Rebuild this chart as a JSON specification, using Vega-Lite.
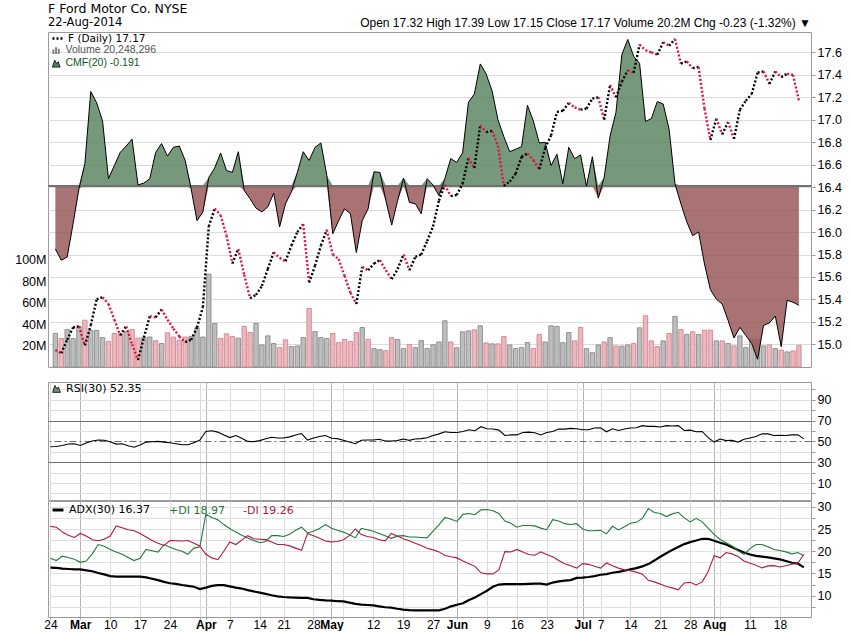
{
"$schema": "https://vega.github.io/schema/vega-lite/v6.json",
"padding": {"left": 14, "top": 2, "right": 0, "bottom": 0},
"background": "white",
"title": {"text": "F Ford Motor Co. NYSE", "subtitle": "22-Aug-2014", "anchor": "start", "frame": "group", "font": "DejaVu Sans", "fontSize": 12.5, "fontWeight": "normal", "color": "#000", "subtitleFont": "DejaVu Sans", "subtitleFontSize": 11.5, "subtitleColor": "#000", "subtitlePadding": 2, "offset": -12},
"datasets": {"s": [
{"i":0,"c":14.95,"v":31.3,"d":0,"m":-0.101,"r":44.8,"a":16.3,"p":18.4,"n":25.6},
{"i":1,"c":14.92,"v":26.6,"d":1,"m":-0.119,"r":45.1,"a":16.25,"p":17.9,"n":25.4},
{"i":2,"c":15.04,"v":35.0,"d":0,"m":-0.114,"r":46.1,"a":16.1,"p":18.9,"n":24.3},
{"i":3,"c":15.15,"v":26.6,"d":0,"m":-0.061,"r":47.4,"a":16.0,"p":18.6,"n":23.6},
{"i":4,"c":15.16,"v":37.9,"d":0,"m":-0.005,"r":47.7,"a":15.9,"p":18.2,"n":23.1},
{"i":5,"c":14.99,"v":43.7,"d":1,"m":0.035,"r":46.1,"a":15.9,"p":17.5,"n":24.0},
{"i":6,"c":15.17,"v":34.2,"d":0,"m":0.150,"r":48.4,"a":15.7,"p":17.8,"n":23.4},
{"i":7,"c":15.40,"v":34.2,"d":0,"m":0.132,"r":50.3,"a":15.5,"p":19.4,"n":22.6},
{"i":8,"c":15.42,"v":27.5,"d":0,"m":0.103,"r":51.3,"a":15.1,"p":21.5,"n":22.35},
{"i":9,"c":15.36,"v":24.0,"d":1,"m":0.011,"r":51.0,"a":14.8,"p":21.1,"n":22.7},
{"i":10,"c":15.22,"v":31.3,"d":1,"m":0.032,"r":49.7,"a":14.4,"p":20.4,"n":23.4},
{"i":11,"c":15.08,"v":31.0,"d":1,"m":0.053,"r":47.4,"a":14.3,"p":19.8,"n":25.7},
{"i":12,"c":15.16,"v":33.0,"d":0,"m":0.063,"r":47.7,"a":14.3,"p":19.3,"n":25.3},
{"i":13,"c":15.00,"v":35.0,"d":1,"m":0.074,"r":45.7,"a":14.3,"p":18.6,"n":24.85},
{"i":14,"c":14.86,"v":27.0,"d":1,"m":0.001,"r":44.4,"a":14.3,"p":17.9,"n":24.6},
{"i":15,"c":15.06,"v":27.5,"d":0,"m":0.004,"r":46.4,"a":14.3,"p":18.4,"n":24.0},
{"i":16,"c":15.25,"v":28.0,"d":0,"m":0.011,"r":49.3,"a":14.1,"p":20.4,"n":23.2},
{"i":17,"c":15.24,"v":24.5,"d":1,"m":0.053,"r":49.7,"a":13.8,"p":20.1,"n":22.4},
{"i":18,"c":15.31,"v":22.0,"d":0,"m":0.067,"r":50.0,"a":13.5,"p":19.8,"n":21.8},
{"i":19,"c":15.22,"v":32.0,"d":1,"m":0.047,"r":49.3,"a":13.1,"p":21.5,"n":21.3},
{"i":20,"c":15.14,"v":28.0,"d":1,"m":0.061,"r":48.7,"a":12.8,"p":20.9,"n":22.4},
{"i":21,"c":15.07,"v":25.0,"d":1,"m":0.063,"r":47.7,"a":12.65,"p":20.4,"n":22.35},
{"i":22,"c":15.02,"v":28.0,"d":1,"m":0.040,"r":46.7,"a":12.4,"p":20.0,"n":22.3},
{"i":23,"c":15.04,"v":28.6,"d":0,"m":-0.005,"r":46.7,"a":12.2,"p":19.3,"n":22.4},
{"i":24,"c":15.15,"v":36.6,"d":0,"m":-0.056,"r":48.7,"a":12.0,"p":20.7,"n":21.8},
{"i":25,"c":15.33,"v":28.0,"d":0,"m":-0.042,"r":51.3,"a":11.5,"p":21.0,"n":21.2},
{"i":26,"c":16.05,"v":86.8,"d":0,"m":0.013,"r":59.5,"a":11.8,"p":28.3,"n":19.3},
{"i":27,"c":16.21,"v":40.6,"d":0,"m":0.028,"r":60.2,"a":12.2,"p":27.6,"n":18.5},
{"i":28,"c":16.15,"v":26.8,"d":1,"m":0.052,"r":58.9,"a":12.35,"p":27.1,"n":18.1},
{"i":29,"c":15.97,"v":31.0,"d":1,"m":0.024,"r":56.2,"a":12.35,"p":26.0,"n":20.0},
{"i":30,"c":15.72,"v":28.6,"d":1,"m":0.021,"r":53.6,"a":12.1,"p":25.1,"n":22.1},
{"i":31,"c":15.85,"v":27.0,"d":0,"m":0.054,"r":55.6,"a":11.8,"p":24.3,"n":21.5},
{"i":32,"c":15.62,"v":37.9,"d":1,"m":-0.008,"r":53.0,"a":11.6,"p":23.6,"n":22.5},
{"i":33,"c":15.41,"v":32.2,"d":1,"m":-0.021,"r":50.0,"a":11.25,"p":23.0,"n":23.5},
{"i":34,"c":15.44,"v":40.7,"d":0,"m":-0.036,"r":49.7,"a":10.95,"p":22.4,"n":22.8},
{"i":35,"c":15.52,"v":20.6,"d":0,"m":-0.042,"r":50.7,"a":10.7,"p":21.9,"n":22.7},
{"i":36,"c":15.67,"v":29.1,"d":0,"m":-0.034,"r":52.6,"a":10.4,"p":22.2,"n":22.6},
{"i":37,"c":15.82,"v":21.9,"d":0,"m":-0.012,"r":53.9,"a":10.1,"p":23.5,"n":22.1},
{"i":38,"c":15.77,"v":18.1,"d":1,"m":-0.066,"r":53.3,"a":9.85,"p":23.5,"n":21.5},
{"i":39,"c":15.74,"v":25.4,"d":1,"m":-0.029,"r":53.3,"a":9.7,"p":23.3,"n":21.5},
{"i":40,"c":15.88,"v":19.1,"d":0,"m":-0.010,"r":54.3,"a":9.6,"p":23.8,"n":21.2},
{"i":41,"c":16.00,"v":19.7,"d":0,"m":0.021,"r":56.2,"a":9.55,"p":24.7,"n":20.7},
{"i":42,"c":16.07,"v":27.5,"d":0,"m":0.054,"r":57.5,"a":9.5,"p":25.4,"n":20.2},
{"i":43,"c":15.55,"v":54.8,"d":1,"m":0.040,"r":51.3,"a":9.5,"p":24.1,"n":24.0},
{"i":44,"c":15.70,"v":33.1,"d":0,"m":0.061,"r":53.3,"a":9.2,"p":24.5,"n":23.5},
{"i":45,"c":15.88,"v":27.5,"d":0,"m":0.068,"r":54.6,"a":9.05,"p":25.1,"n":22.9},
{"i":46,"c":16.02,"v":26.6,"d":0,"m":0.016,"r":55.6,"a":8.95,"p":26.0,"n":22.3},
{"i":47,"c":15.80,"v":31.3,"d":1,"m":-0.077,"r":53.0,"a":8.9,"p":25.15,"n":22.1},
{"i":48,"c":15.76,"v":22.8,"d":1,"m":-0.056,"r":52.6,"a":8.75,"p":24.7,"n":22.2},
{"i":49,"c":15.61,"v":25.7,"d":1,"m":-0.037,"r":51.0,"a":8.7,"p":24.3,"n":22.6},
{"i":50,"c":15.46,"v":23.8,"d":1,"m":-0.045,"r":49.3,"a":8.45,"p":23.7,"n":23.5},
{"i":51,"c":15.36,"v":32.2,"d":1,"m":-0.107,"r":47.7,"a":8.15,"p":23.0,"n":25.0},
{"i":52,"c":15.69,"v":36.9,"d":0,"m":-0.056,"r":51.0,"a":8.0,"p":25.15,"n":23.75},
{"i":53,"c":15.66,"v":25.7,"d":1,"m":-0.037,"r":51.3,"a":7.9,"p":24.85,"n":23.3},
{"i":54,"c":15.72,"v":17.2,"d":0,"m":0.022,"r":51.3,"a":7.8,"p":24.5,"n":23.1},
{"i":55,"c":15.75,"v":16.2,"d":0,"m":0.021,"r":52.0,"a":7.6,"p":24.0,"n":22.6},
{"i":56,"c":15.66,"v":15.3,"d":1,"m":-0.024,"r":50.3,"a":7.4,"p":23.5,"n":22.35},
{"i":57,"c":15.58,"v":27.5,"d":1,"m":-0.063,"r":50.3,"a":7.3,"p":22.9,"n":24.0},
{"i":58,"c":15.67,"v":25.7,"d":0,"m":-0.024,"r":50.7,"a":7.05,"p":23.4,"n":23.4},
{"i":59,"c":15.80,"v":17.2,"d":0,"m":0.012,"r":52.3,"a":6.85,"p":23.5,"n":22.8},
{"i":60,"c":15.66,"v":21.0,"d":1,"m":-0.027,"r":51.0,"a":6.75,"p":23.2,"n":22.35},
{"i":61,"c":15.78,"v":18.1,"d":0,"m":-0.029,"r":52.3,"a":6.7,"p":23.2,"n":21.8},
{"i":62,"c":15.80,"v":24.7,"d":0,"m":-0.045,"r":52.6,"a":6.7,"p":23.1,"n":21.3},
{"i":63,"c":15.92,"v":17.2,"d":0,"m":0.011,"r":53.5,"a":6.7,"p":23.0,"n":20.65},
{"i":64,"c":16.05,"v":20.8,"d":0,"m":0.001,"r":55.6,"a":6.7,"p":24.5,"n":20.3},
{"i":65,"c":16.28,"v":23.4,"d":0,"m":-0.016,"r":57.2,"a":6.7,"p":26.0,"n":19.85},
{"i":66,"c":16.42,"v":43.2,"d":0,"m":0.011,"r":59.2,"a":7.05,"p":27.6,"n":19.05},
{"i":67,"c":16.32,"v":23.4,"d":1,"m":0.043,"r":58.5,"a":7.6,"p":27.2,"n":18.75},
{"i":68,"c":16.33,"v":18.1,"d":0,"m":0.037,"r":58.5,"a":7.95,"p":26.7,"n":18.5},
{"i":69,"c":16.43,"v":32.9,"d":0,"m":0.052,"r":59.5,"a":8.3,"p":28.3,"n":17.8},
{"i":70,"c":16.66,"v":33.8,"d":0,"m":0.133,"r":61.1,"a":9.0,"p":28.5,"n":17.2},
{"i":71,"c":16.57,"v":34.7,"d":1,"m":0.146,"r":60.2,"a":9.6,"p":28.2,"n":16.6},
{"i":72,"c":16.95,"v":38.5,"d":0,"m":0.194,"r":64.1,"a":10.35,"p":29.3,"n":15.15},
{"i":73,"c":16.89,"v":22.5,"d":1,"m":0.178,"r":62.1,"a":11.1,"p":29.4,"n":14.9},
{"i":74,"c":16.90,"v":21.6,"d":0,"m":0.151,"r":61.8,"a":12.0,"p":29.1,"n":14.9},
{"i":75,"c":16.77,"v":21.6,"d":1,"m":0.105,"r":60.8,"a":12.5,"p":28.5,"n":15.8},
{"i":76,"c":16.41,"v":28.5,"d":1,"m":0.078,"r":55.6,"a":12.6,"p":26.8,"n":19.9},
{"i":77,"c":16.45,"v":20.6,"d":0,"m":0.054,"r":56.2,"a":12.6,"p":26.3,"n":19.85},
{"i":78,"c":16.52,"v":17.2,"d":0,"m":0.058,"r":56.2,"a":12.6,"p":25.4,"n":20.4},
{"i":79,"c":16.67,"v":18.1,"d":0,"m":0.062,"r":58.5,"a":12.6,"p":25.8,"n":19.8},
{"i":80,"c":16.70,"v":22.8,"d":0,"m":0.128,"r":58.9,"a":12.65,"p":25.8,"n":19.25},
{"i":81,"c":16.64,"v":17.2,"d":1,"m":0.103,"r":58.2,"a":12.7,"p":25.7,"n":19.1},
{"i":82,"c":16.56,"v":30.4,"d":1,"m":0.068,"r":56.2,"a":12.7,"p":25.2,"n":19.85},
{"i":83,"c":16.75,"v":23.4,"d":0,"m":0.069,"r":58.5,"a":12.5,"p":24.85,"n":19.25},
{"i":84,"c":16.86,"v":38.5,"d":0,"m":0.032,"r":59.5,"a":12.95,"p":27.1,"n":18.75},
{"i":85,"c":17.07,"v":37.9,"d":0,"m":0.050,"r":61.8,"a":13.2,"p":26.8,"n":17.9},
{"i":86,"c":17.08,"v":22.8,"d":0,"m":0.003,"r":61.8,"a":13.4,"p":26.2,"n":17.2},
{"i":87,"c":17.15,"v":32.2,"d":0,"m":0.061,"r":62.5,"a":13.5,"p":26.0,"n":16.75},
{"i":88,"c":17.11,"v":24.4,"d":1,"m":0.043,"r":62.1,"a":14.0,"p":26.2,"n":16.2},
{"i":89,"c":17.09,"v":36.9,"d":1,"m":0.049,"r":61.1,"a":14.05,"p":25.0,"n":17.2},
{"i":90,"c":17.10,"v":17.2,"d":0,"m":-0.001,"r":61.1,"a":14.2,"p":24.6,"n":17.05},
{"i":91,"c":17.19,"v":13.4,"d":0,"m":0.046,"r":62.8,"a":14.4,"p":24.6,"n":16.6},
{"i":92,"c":17.20,"v":20.6,"d":0,"m":-0.020,"r":63.1,"a":14.7,"p":24.7,"n":16.2},
{"i":93,"c":17.00,"v":23.4,"d":1,"m":0.013,"r":59.2,"a":14.85,"p":23.9,"n":17.35},
{"i":94,"c":17.31,"v":27.5,"d":0,"m":0.079,"r":62.1,"a":15.15,"p":25.6,"n":16.75},
{"i":95,"c":17.20,"v":19.7,"d":1,"m":0.117,"r":60.5,"a":15.35,"p":24.8,"n":16.2},
{"i":96,"c":17.34,"v":19.5,"d":0,"m":0.209,"r":61.8,"a":15.6,"p":25.5,"n":15.8},
{"i":97,"c":17.44,"v":20.6,"d":0,"m":0.233,"r":62.8,"a":15.9,"p":26.3,"n":15.6},
{"i":98,"c":17.42,"v":22.0,"d":1,"m":0.206,"r":63.1,"a":16.2,"p":26.5,"n":15.3},
{"i":99,"c":17.67,"v":36.6,"d":0,"m":0.195,"r":65.1,"a":16.6,"p":27.4,"n":14.85},
{"i":100,"c":17.62,"v":47.9,"d":1,"m":0.102,"r":64.4,"a":17.1,"p":29.6,"n":13.45},
{"i":101,"c":17.60,"v":24.4,"d":1,"m":0.107,"r":64.4,"a":17.9,"p":28.7,"n":13.1},
{"i":102,"c":17.58,"v":19.1,"d":1,"m":0.134,"r":63.8,"a":18.75,"p":28.5,"n":12.6},
{"i":103,"c":17.69,"v":24.4,"d":0,"m":0.130,"r":65.1,"a":19.55,"p":27.8,"n":12.05},
{"i":104,"c":17.66,"v":31.3,"d":1,"m":0.090,"r":64.8,"a":20.3,"p":28.4,"n":11.75},
{"i":105,"c":17.72,"v":47.3,"d":0,"m":0.003,"r":65.1,"a":20.95,"p":28.75,"n":11.3},
{"i":106,"c":17.50,"v":35.0,"d":1,"m":-0.029,"r":60.5,"a":21.6,"p":27.5,"n":12.85},
{"i":107,"c":17.52,"v":30.4,"d":0,"m":-0.058,"r":60.8,"a":22.05,"p":26.6,"n":13.0},
{"i":108,"c":17.46,"v":32.9,"d":1,"m":-0.080,"r":59.2,"a":22.4,"p":27.4,"n":12.4},
{"i":109,"c":17.47,"v":30.4,"d":0,"m":-0.074,"r":59.5,"a":22.8,"p":26.6,"n":13.1},
{"i":110,"c":17.10,"v":34.4,"d":1,"m":-0.125,"r":53.6,"a":22.8,"p":25.2,"n":15.45},
{"i":111,"c":16.82,"v":34.4,"d":1,"m":-0.166,"r":49.3,"a":22.35,"p":23.8,"n":19.0},
{"i":112,"c":17.01,"v":24.4,"d":0,"m":-0.181,"r":52.3,"a":21.9,"p":22.65,"n":18.5},
{"i":113,"c":16.87,"v":24.4,"d":1,"m":-0.189,"r":50.7,"a":21.5,"p":21.9,"n":19.7},
{"i":114,"c":16.98,"v":22.0,"d":0,"m":-0.215,"r":51.0,"a":20.9,"p":21.2,"n":19.4},
{"i":115,"c":16.83,"v":19.7,"d":1,"m":-0.243,"r":49.3,"a":20.3,"p":20.1,"n":18.8},
{"i":116,"c":17.09,"v":29.1,"d":0,"m":-0.226,"r":52.0,"a":19.7,"p":19.3,"n":17.8},
{"i":117,"c":17.17,"v":18.1,"d":0,"m":-0.239,"r":53.3,"a":19.25,"p":20.6,"n":17.3},
{"i":118,"c":17.23,"v":25.4,"d":0,"m":-0.252,"r":54.6,"a":18.95,"p":21.5,"n":16.85},
{"i":119,"c":17.42,"v":26.0,"d":0,"m":-0.277,"r":57.2,"a":18.8,"p":21.5,"n":16.25},
{"i":120,"c":17.43,"v":19.7,"d":0,"m":-0.223,"r":57.2,"a":18.6,"p":21.0,"n":16.7},
{"i":121,"c":17.32,"v":20.6,"d":1,"m":-0.219,"r":55.6,"a":18.4,"p":20.4,"n":16.75},
{"i":122,"c":17.43,"v":17.2,"d":0,"m":-0.208,"r":55.9,"a":18.15,"p":20.15,"n":16.45},
{"i":123,"c":17.38,"v":15.9,"d":1,"m":-0.257,"r":55.6,"a":17.8,"p":19.85,"n":16.75},
{"i":124,"c":17.41,"v":14.1,"d":0,"m":-0.183,"r":56.2,"a":17.4,"p":19.4,"n":17.05},
{"i":125,"c":17.40,"v":15.0,"d":1,"m":-0.186,"r":56.2,"a":17.2,"p":19.7,"n":17.35},
{"i":126,"c":17.17,"v":20.2,"d":1,"m":-0.191,"r":52.35,"a":16.37,"p":18.97,"n":19.26}
]},
"data": {"name": "s"},
"spacing": 15,
"bounds": "flush",
"resolve": {"scale": {"color": "independent", "fill": "independent", "strokeDash": "independent"}},
"vconcat": [
{
"width": 763, "height": 335,
"title": {"text": "Open 17.32  High 17.39  Low 17.15  Close 17.17  Volume 20.2M  Chg -0.23 (-1.32%) ▼", "anchor": "end", "frame": "group", "font": "Liberation Sans", "fontSize": 12, "fontWeight": "normal", "color": "#000", "offset": 2},
"resolve": {"scale": {"y": "independent"}, "axis": {"y": "independent"}},
"layer": [
{
"mark": {"type": "rule", "opacity": 0},
"encoding": {
"y": {"datum": 0, "type": "quantitative", "scale": {"domain": [-1, 1]}, "axis": null},
"strokeDash": {"datum": "F (Daily) 17.17", "type": "nominal", "scale": {"range": [[2, 2]]},
"legend": {"orient": "none", "legendX": 3, "legendY": 0, "labelColor": "#000", "labelFont": "DejaVu Sans", "labelFontSize": 10.5, "symbolType": "stroke", "symbolStrokeColor": "#000", "symbolStrokeWidth": 2.5, "symbolSize": 100,
"encoding": {"symbols": {"opacity": {"value": 1}, "strokeOpacity": {"value": 1}, "stroke": {"value": "#000"}}}}}
}
},
{
"mark": {"type": "rule", "opacity": 0},
"encoding": {
"y": {"datum": 0, "type": "quantitative", "scale": {"domain": [-1, 1]}, "axis": null},
"color": {"datum": "Volume 20,248,296", "type": "nominal", "scale": {"range": ["#808080"]},
"legend": {"orient": "none", "legendX": 3, "legendY": 13, "labelColor": "#555", "labelFont": "Liberation Sans", "labelFontSize": 10.5, "symbolType": "M-1,1V-0.2H-0.5V1ZM-0.3,1V-0.8H0.2V1ZM0.4,1V-0.4H0.9V1Z", "symbolSize": 60,
"encoding": {"symbols": {"opacity": {"value": 1}, "fill": {"value": "#808080"}, "fillOpacity": {"value": 1}, "stroke": {"value": "#808080"}, "strokeWidth": {"value": 0}}}}}
}
},
{
"mark": {"type": "bar", "width": 4.4, "strokeWidth": 0.9},
"encoding": {
"x": {"field": "i", "type": "quantitative", "scale": {"domain": [-0.4, 127.2], "nice": false, "zero": false},
"axis": {"values": [0,5,10,15,20,25,26,30,35,39,44,47,49,54,59,64,68,73,78,83,88,89,92,97,102,107,111,112,117,122],
"labelExpr": "['24','Mar','10','17','24','','Apr','7','14','21','28','May','','12','19','27','Jun','9','16','23','','Jul','7','14','21','28','Aug','','11','18'][indexof([0,5,10,15,20,25,26,30,35,39,44,47,49,54,59,64,68,73,78,83,88,89,92,97,102,107,111,112,117,122], datum.value)]",
"labelFontWeight": {"condition": {"test": "indexof([5,26,47,68,89,111], datum.value) >= 0", "value": "bold"}, "value": "normal"},
"gridColor": {"condition": {"test": "indexof([5,26,47,68,89,111], datum.value) >= 0", "value": "#b4b4b4"}, "value": "#dcdcdc"},
"grid": true, "domain": false, "tickSize": 3, "tickColor": "#999", "labelPadding": 1, "labelOverlap": false, "labelFlush": false, "labelBound": false}},
"y": {"field": "v", "type": "quantitative", "scale": {"domain": [0, 313], "nice": false},
"axis": {"orient": "left", "values": [20,40,60,80,100], "labelExpr": "datum.value + 'M'", "grid": false, "ticks": false, "domain": false, "labelPadding": 2}},
"fill": {"condition": {"test": "datum.d == 1", "value": "#e8bac0"}, "value": "#bebebe"},
"stroke": {"condition": {"test": "datum.d == 1", "value": "#d9808c"}, "value": "#8a8a8a"}
}
},
{
"mark": {"type": "area", "fillOpacity": 0.8},
"encoding": {
"x": {"field": "i", "type": "quantitative", "scale": {"domain": [-0.4, 127.2], "nice": false, "zero": false}, "axis": null},
"y": {"field": "m", "type": "quantitative", "scale": {"domain": [0, 0.2449], "range": [153.6, 0], "clamp": true, "nice": false, "zero": false}, "axis": null},
"y2": {"datum": 0},
"fill": {"datum": "CMF(20) -0.191", "type": "nominal", "scale": {"range": ["#55805a"]},
"legend": {"orient": "none", "legendX": 3, "legendY": 26, "labelColor": "#0b5a1e", "labelFont": "Liberation Sans", "labelFontSize": 10.5, "symbolType": "M-1,1L-0.4,-0.8L0.1,0.1L0.5,-0.4L1,1Z", "symbolStrokeColor": "#000", "symbolStrokeWidth": 0.8, "symbolSize": 60}}
}
},
{
"mark": {"type": "area", "color": "#955050", "fillOpacity": 0.8},
"encoding": {
"x": {"field": "i", "type": "quantitative", "scale": {"domain": [-0.4, 127.2], "nice": false, "zero": false}, "axis": null},
"y": {"field": "m", "type": "quantitative", "scale": {"domain": [-0.2893, 0], "range": [335, 153.6], "clamp": true, "nice": false, "zero": false}, "axis": null},
"y2": {"datum": 0}
}
},
{
"mark": {"type": "rule", "color": "#707070", "strokeWidth": 1},
"encoding": {
"y": {"datum": 0, "type": "quantitative", "scale": {"domain": [-0.2893, 0.2449], "nice": false, "zero": false}, "axis": null}
}
},
{
"mark": {"type": "line", "color": "#000", "strokeWidth": 1},
"encoding": {
"x": {"field": "i", "type": "quantitative", "scale": {"domain": [-0.4, 127.2], "nice": false, "zero": false}, "axis": null},
"y": {"field": "m", "type": "quantitative", "scale": {"domain": [-0.2893, 0.2449], "nice": false, "zero": false}, "axis": null}
}
},
{
"transform": [{"window": [{"op": "lag", "field": "c", "as": "pc"}, {"op": "lag", "field": "i", "as": "pi"}], "sort": [{"field": "i", "order": "ascending"}]}, {"filter": "datum.pc != null"}],
"mark": {"type": "rule", "strokeWidth": 2.4, "strokeCap": "butt", "strokeDash": [2, 2]},
"encoding": {
"x": {"field": "pi", "type": "quantitative", "scale": {"domain": [-0.4, 127.2], "nice": false, "zero": false}, "axis": null},
"x2": {"field": "i"},
"y": {"field": "pc", "type": "quantitative", "scale": {"domain": [14.798, 17.782], "nice": false, "zero": false},
"axis": {"orient": "right", "values": [15,15.2,15.4,15.6,15.8,16,16.2,16.4,16.6,16.8,17,17.2,17.4,17.6], "format": ".1f", "grid": true, "gridColor": "#dcdcdc", "domain": false, "tickSize": 4, "tickColor": "#999", "labelPadding": 2}},
"y2": {"field": "c"},
"color": {"condition": {"test": "datum.d == 1", "value": "#dc143c"}, "value": "#000"}
}
}
]
},
{
"vconcat": [
{
"width": 763, "height": 118,
"mark": {"type": "line", "strokeWidth": 1.1},
"encoding": {
"x": {"field": "i", "type": "quantitative", "scale": {"domain": [-0.4, 127.2], "nice": false, "zero": false},
"axis": {"values": [0,5,10,15,20,25,26,30,35,39,44,47,49,54,59,64,68,73,78,83,88,89,92,97,102,107,111,112,117,122], "labels": false, "ticks": false, "domain": false, "grid": true,
"gridColor": {"condition": {"test": "indexof([5,26,47,68,89,111], datum.value) >= 0", "value": "#b4b4b4"}, "value": "#dcdcdc"}}},
"y": {"field": "r", "type": "quantitative", "scale": {"domain": [-6.3, 107], "nice": false, "zero": false},
"axis": {"orient": "right", "values": [0,10,20,30,40,50,60,70,80,90,100], "labelExpr": "datum.value % 20 == 10 ? datum.value : ''", "grid": true,
"gridColor": {"condition": {"test": "datum.value == 30 || datum.value == 50 || datum.value == 70", "value": "#707070"}, "value": "#e0e0e0"},
"gridDash": {"condition": {"test": "datum.value == 50", "value": [7, 3, 2, 3]}, "value": []},
"domain": false, "tickSize": 4, "tickColor": "#999", "labelPadding": 2}},
"color": {"datum": "RSI(30) 52.35", "type": "nominal", "scale": {"range": ["#000"]},
"legend": {"orient": "none", "legendX": 3, "legendY": 1, "labelColor": "#000", "labelFont": "DejaVu Sans", "labelFontSize": 11, "symbolType": "M-1,1L-0.4,-0.8L0.1,0.1L0.5,-0.4L1,1Z", "symbolSize": 60,
"encoding": {"symbols": {"fill": {"value": "#6d9070"}, "stroke": {"value": "#000"}, "strokeWidth": {"value": 0.8}}}}}
}
},
{
"width": 763, "height": 116,
"transform": [{"fold": ["a", "p", "n"], "as": ["k", "val"]}],
"mark": {"type": "line"},
"encoding": {
"x": {"field": "i", "type": "quantitative", "scale": {"domain": [-0.4, 127.2], "nice": false, "zero": false},
"axis": {"values": [0,5,10,15,20,25,26,30,35,39,44,47,49,54,59,64,68,73,78,83,88,89,92,97,102,107,111,112,117,122],
"labelExpr": "['24','Mar','10','17','24','','Apr','7','14','21','28','May','','12','19','27','Jun','9','16','23','','Jul','7','14','21','28','Aug','','11','18'][indexof([0,5,10,15,20,25,26,30,35,39,44,47,49,54,59,64,68,73,78,83,88,89,92,97,102,107,111,112,117,122], datum.value)]",
"labelFontWeight": {"condition": {"test": "indexof([5,26,47,68,89,111], datum.value) >= 0", "value": "bold"}, "value": "normal"},
"gridColor": {"condition": {"test": "indexof([5,26,47,68,89,111], datum.value) >= 0", "value": "#b4b4b4"}, "value": "#dcdcdc"},
"grid": true, "domain": false, "tickSize": 2, "tickColor": "#999", "labelPadding": 0, "labelFontSize": 12, "labelOverlap": false, "labelFlush": false, "labelBound": false}},
"y": {"field": "val", "type": "quantitative", "scale": {"domain": [5.2, 31.3], "nice": false, "zero": false},
"axis": {"orient": "right", "values": [7.5,10,12.5,15,17.5,20,22.5,25,27.5,30], "labelExpr": "datum.value % 5 == 0 ? datum.value : ''", "grid": true, "gridColor": "#e0e0e0", "domain": false, "tickSize": 4, "tickColor": "#999", "labelPadding": 2}},
"color": {"field": "k", "type": "nominal", "scale": {"domain": ["a", "p", "n"], "range": ["#000", "#1f7a3c", "#b01a44"]},
"legend": {"orient": "none", "legendX": 3, "legendY": 2, "direction": "horizontal", "labelExpr": "datum.label == 'a' ? 'ADX(30) 16.37' : datum.label == 'p' ? '+DI 18.97' : '-DI 19.26'", "symbolType": "stroke", "symbolStrokeWidth": 3, "symbolSize": 120, "labelFont": "DejaVu Sans", "labelFontSize": 11, "columnPadding": 0,
"encoding": {"labels": {"fill": {"condition": [{"test": "datum.value == 'p'", "value": "#1f7a3c"}, {"test": "datum.value == 'n'", "value": "#b01a44"}], "value": "#000"}},
"symbols": {"opacity": {"condition": {"test": "datum.value != 'a'", "value": 0}, "value": 1}}}}},
"strokeWidth": {"condition": {"test": "datum.k == 'a'", "value": 2.2}, "value": 1.1}
}
}
],
"spacing": 1,
"bounds": "flush",
"resolve": {"scale": {"color": "independent"}}
}
],
"config": {
"view": {"stroke": "#9a9a9a", "strokeWidth": 1},
"axis": {"labelFont": "Liberation Sans", "labelFontSize": 12.5, "labelColor": "#000", "title": null},
"legend": {"orient": "top-left", "offset": 3, "padding": 0, "title": null, "rowPadding": 0}
}
}
